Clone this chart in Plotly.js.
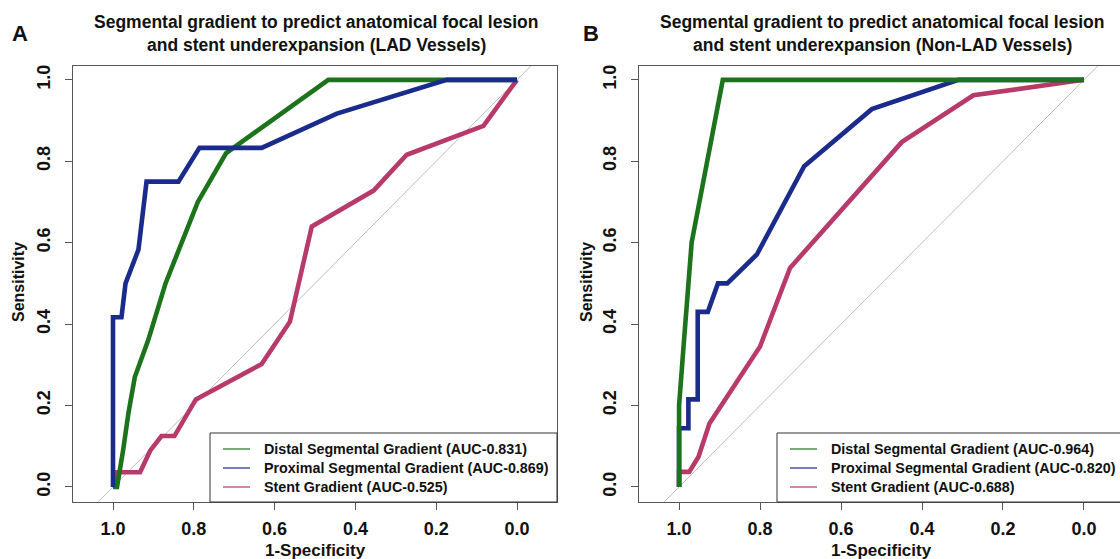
<!DOCTYPE html>
<html>
<head>
<meta charset="utf-8">
<script src="https://cdn.plot.ly/plotly-3.0.1.min.js"></script>
<style>html,body{margin:0;padding:0;background:#fff;}#chart{width:1120px;height:559px;}</style>
</head>
<body>
<div id="chart"></div>
<script>
// ---- Data (specificity on x, reversed axis; sensitivity on y) ----
const seriesNames = ["Distal Segmental Gradient", "Proximal Segmental Gradient", "Stent Gradient"];
const aucA = ["0.831", "0.869", "0.525"];
const aucB = ["0.964", "0.820", "0.688"];

// Panel A: LAD vessels
const specA_distal = [1.0, 0.99, 0.975, 0.962, 0.946, 0.913, 0.87, 0.818, 0.79, 0.72, 0.6, 0.467, 0.0];
const sensA_distal = [0.0, 0.0, 0.09, 0.18, 0.27, 0.36, 0.50, 0.63, 0.70, 0.82, 0.905, 1.0, 1.0];
const specA_prox = [1.0, 1.0, 0.979, 0.969, 0.937, 0.917, 0.838, 0.786, 0.632, 0.446, 0.174, 0.0];
const sensA_prox = [0.0, 0.417, 0.417, 0.5, 0.583, 0.75, 0.75, 0.833, 0.833, 0.917, 1.0, 1.0];
const specA_stent = [1.0, 0.99, 0.933, 0.908, 0.880, 0.848, 0.795, 0.632, 0.562, 0.508, 0.355, 0.273, 0.083, 0.0];
const sensA_stent = [0.0, 0.036, 0.036, 0.089, 0.125, 0.125, 0.215, 0.302, 0.406, 0.64, 0.728, 0.816, 0.887, 1.0];

// Panel B: Non-LAD vessels
const specB_distal = [1.0, 1.0, 0.989, 0.969, 0.892, 0.0];
const sensB_distal = [0.0, 0.2, 0.345, 0.6, 1.0, 1.0];
const specB_prox = [1.0, 1.0, 0.977, 0.977, 0.954, 0.954, 0.929, 0.904, 0.881, 0.808, 0.691, 0.524, 0.310, 0.0];
const sensB_prox = [0.0, 0.144, 0.144, 0.215, 0.215, 0.43, 0.43, 0.50, 0.50, 0.571, 0.788, 0.928, 1.0, 1.0];
const specB_stent = [1.0, 1.0, 0.975, 0.952, 0.925, 0.80, 0.726, 0.45, 0.273, 0.0];
const sensB_stent = [0.0, 0.037, 0.037, 0.074, 0.156, 0.345, 0.538, 0.847, 0.962, 1.0];

const diagX = [1.3, -0.3];
const diagY = [-0.3, 1.3];
const tickVals = [0, 0.2, 0.4, 0.6, 0.8, 1.0];
const tickText = ["0.0", "0.2", "0.4", "0.6", "0.8", "1.0"];

// ---- Styling ----
const colors = ["#1c731c", "#1b2b8c", "#b73a6b"];
const FONT = "Liberation Sans, Arial, Helvetica, sans-serif";
const W = 1120, H = 559;
const px = x => x / W;
const py = y => 1 - y / H;

function curve(x, y, c, xa, ya) {
  return {x: x, y: y, type: "scatter", mode: "lines", xaxis: xa, yaxis: ya,
    line: {color: c, width: 4.6}, showlegend: false, hoverinfo: "skip"};
}
function diag(xa, ya) {
  return {x: diagX, y: diagY, type: "scatter", mode: "lines", xaxis: xa, yaxis: ya,
    line: {color: "#bdbdbd", width: 1}, showlegend: false, hoverinfo: "skip"};
}

const data = [
  diag("x", "y"),
  curve(specA_stent, sensA_stent, colors[2], "x", "y"),
  curve(specA_distal, sensA_distal, colors[0], "x", "y"),
  curve(specA_prox, sensA_prox, colors[1], "x", "y"),
  diag("x2", "y2"),
  curve(specB_stent, sensB_stent, colors[2], "x2", "y2"),
  curve(specB_prox, sensB_prox, colors[1], "x2", "y2"),
  curve(specB_distal, sensB_distal, colors[0], "x2", "y2")
];

const tickfont = {family: FONT, size: 18, color: "#111", weight: "bold"};
function xaxis(domain, range, mirrorTop) {
  return {domain: domain, range: range, autorange: false, tickvals: tickVals, ticktext: tickText,
    ticks: "outside", ticklen: 7, tickcolor: "#555", tickwidth: 1, tickfont: tickfont,
    ticklabelstandoff: 3, showline: true, linecolor: "#555", linewidth: 1, mirror: mirrorTop,
    showgrid: false, zeroline: false, fixedrange: true};
}
function yaxis(domain, anchor, mirror) {
  return {domain: domain, anchor: anchor, range: [-0.037, 1.034], autorange: false,
    tickvals: tickVals, ticktext: tickText, tickangle: -90,
    ticks: "outside", ticklen: 7, tickcolor: "#555", tickwidth: 1, tickfont: tickfont,
    ticklabelstandoff: 8, showline: true, linecolor: "#555", linewidth: 1, mirror: mirror,
    showgrid: false, zeroline: false, fixedrange: true};
}

const yDom = [py(502), py(66)];
const layout = {
  width: W, height: H, margin: {l: 0, r: 0, t: 0, b: 0},
  paper_bgcolor: "#fff", plot_bgcolor: "#fff", showlegend: false,
  xaxis: Object.assign(xaxis([px(73), px(557)], [1.099, -0.099], true), {anchor: "y"}),
  yaxis: yaxis(yDom, "x", true),
  xaxis2: Object.assign(xaxis([px(639), 1], [1.099, -0.089], true), {anchor: "y2"}),
  yaxis2: yaxis(yDom, "x2", false),
  shapes: [],
  annotations: []
};

function ann(text, x, y, size, opts) {
  return Object.assign({text: text, x: px(x), y: py(y), xref: "paper", yref: "paper",
    showarrow: false, font: {family: FONT, size: size, color: "#111"},
    xanchor: "center", yanchor: "middle"}, opts || {});
}

// Panel letters and titles
layout.annotations.push(ann("<b>A</b>", 20, 33, 22));
layout.annotations.push(ann("<b>B</b>", 591, 33, 22));
layout.annotations.push(ann("<b>Segmental gradient to predict anatomical focal lesion</b>", 316, 22, 17.5));
layout.annotations.push(ann("<b>and stent underexpansion (LAD Vessels)</b>", 316, 45, 17.5));
layout.annotations.push(ann("<b>Segmental gradient to predict anatomical focal lesion</b>", 882, 22, 17.5));
layout.annotations.push(ann("<b>and stent underexpansion (Non-LAD Vessels)</b>", 882, 45, 17.5));
// Axis titles
layout.annotations.push(ann("<b>1-Specificity</b>", 315, 550, 17));
layout.annotations.push(ann("<b>1-Specificity</b>", 881, 550, 17));
layout.annotations.push(ann("<b>Sensitivity</b>", 18, 282, 16, {textangle: -90}));
layout.annotations.push(ann("<b>Sensitivity</b>", 586, 282, 16, {textangle: -90}));

// Legends
function legend(left, right, textX, lineX0, lineX1, aucs) {
  layout.shapes.push({type: "rect", xref: "paper", yref: "paper",
    x0: px(left), x1: px(right), y0: py(502), y1: py(433),
    line: {color: "#333", width: 1}, fillcolor: "#fff", layer: "above"});
  const ys = [449, 468, 487];
  for (let i = 0; i < 3; i++) {
    layout.shapes.push({type: "line", xref: "paper", yref: "paper",
      x0: px(lineX0), x1: px(lineX1), y0: py(ys[i]), y1: py(ys[i]),
      line: {color: colors[i], width: 1.2}, layer: "above"});
    layout.annotations.push(ann("<b>" + seriesNames[i] + " (AUC-" + aucs[i] + ")</b>",
      textX, ys[i], 14.3, {xanchor: "left"}));
  }
}
legend(210, 557, 262, 223, 250, aucA);
legend(777, 1125, 829, 790, 817, aucB);

Plotly.newPlot("chart", data, layout, {staticPlot: true, displayModeBar: false});
</script>
</body>
</html>
